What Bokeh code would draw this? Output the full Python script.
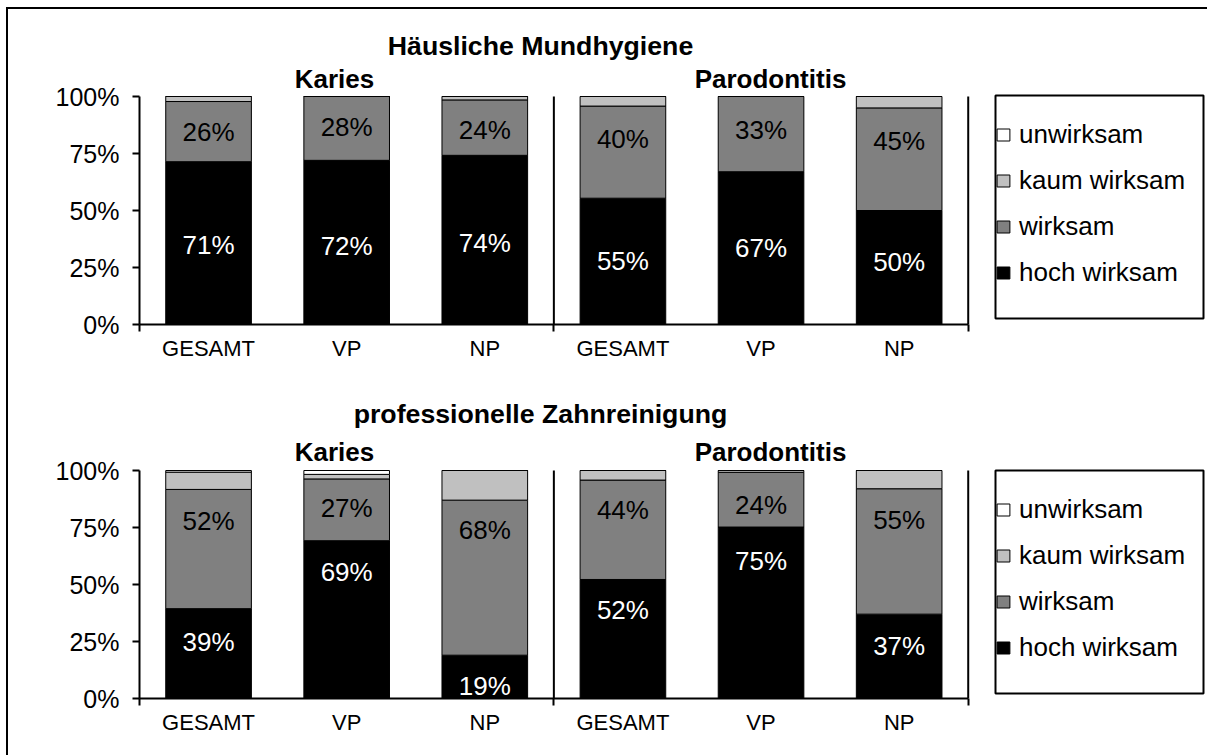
from bokeh.plotting import figure
from bokeh.models import (ColumnDataSource, FixedTicker, Legend, LegendItem,
                          BoxAnnotation, Range1d)
from bokeh.layouts import column
from bokeh.core.properties import value
from bokeh.embed import file_html
from bokeh.resources import INLINE

# ---------------- data ----------------
groups = ["Karies", "Parodontitis"]
subgroups = ["GESAMT", "VP", "NP"]
levels = ["hoch wirksam", "wirksam", "kaum wirksam", "unwirksam"]
level_keys = ["hoch", "wirksam", "kaum", "unwirksam"]
level_colors = ["#000000", "#808080", "#c0c0c0", "#ffffff"]
y_ticks = [0, 25, 50, 75, 100]
y_tick_labels = ["0%", "25%", "50%", "75%", "100%"]

home_title = "Häusliche Mundhygiene"
home_hoch = [71.4, 72.0, 74.2, 55.4, 67.0, 50.0]
home_wirksam = [26.4, 28.0, 24.3, 40.4, 33.0, 45.0]
home_kaum = [2.2, 0.0, 1.5, 4.2, 0.0, 5.0]
home_unwirksam = [0.0, 0.0, 0.0, 0.0, 0.0, 0.0]

prof_title = "professionelle Zahnreinigung"
prof_hoch = [39.4, 69.2, 19.0, 52.2, 75.2, 37.0]
prof_wirksam = [52.3, 27.1, 68.0, 43.6, 24.0, 55.0]
prof_kaum = [7.6, 2.0, 13.0, 4.2, 0.8, 8.0]
prof_unwirksam = [0.7, 1.7, 0.0, 0.0, 0.0, 0.0]

# label placement tweaks (in % units, relative to segment centre)
home_shift_hoch = [-1.0, -1.4, -1.2, 0.0, 0.0, 2.2]
home_shift_wirk = [0.0, 0.5, -1.2, 5.7, 2.0, 8.2]
prof_shift_hoch = [5.0, 20.9, -3.8, 12.5, 22.9, 4.7]
prof_shift_wirk = [12.1, 0.7, 20.7, 8.5, -2.4, 13.6]

# ---------------- layout constants (page px) ----------------
ORIGIN_X, ORIGIN_Y = 8, 9      # canvas origin on the page (after margin + border)
W = 1199
AXIS_X = 139                   # page x of the y axis
LEFT = AXIS_X - ORIGIN_X
PX_X = 69.06                   # px per x unit (2 units per category)
PX_Y = 2.28                    # px per percent
X_END = (W - LEFT) / PX_X
FONT_NAME = "Liberation Sans"
FONT = value(FONT_NAME)

n_cat = len(groups) * len(subgroups)
xs = [2 * i + 1 for i in range(n_cat)]
bounds = [2 * len(subgroups) * g for g in range(len(groups) + 1)]
x_end_bars = bounds[-1]


def px_x(page_x):
    return (page_x - AXIS_X) / PX_X


def make_chart(title, hoch, wirk, kaum, unw, sh_hoch, sh_wirk, canvas_top, height,
               zero_y, title_y, group_y, legend_top, box_top, box_bottom):
    frame_h = zero_y - canvas_top
    p = figure(width=W, height=height, output_backend="svg", toolbar_location=None,
               x_range=Range1d(0, X_END), y_range=Range1d(0, frame_h / PX_Y),
               min_border_left=LEFT, min_border_right=0, min_border_top=0,
               min_border_bottom=height - frame_h)
    p.outline_line_color = None
    p.xgrid.grid_line_color = None
    p.ygrid.grid_line_color = None
    p.background_fill_color = "white"
    p.border_fill_color = "white"

    def py(page_y):
        return (zero_y - page_y) / PX_Y

    src = ColumnDataSource(dict(x=xs, hoch=hoch, wirksam=wirk, kaum=kaum, unwirksam=unw))
    rends = p.vbar_stack(level_keys, x="x", width=1.24, source=src,
                         fill_color=level_colors, line_color="black", line_width=1)

    # separators between groups
    p.segment(x0=bounds[1:], y0=[0] * len(groups), x1=bounds[1:], y1=[100] * len(groups),
              line_color="black", line_width=2)

    # value labels
    lx, ly, lt, lc = [], [], [], []
    for i in range(n_cat):
        lx.append(xs[i]); ly.append(hoch[i] / 2 + sh_hoch[i])
        lt.append(f"{round(hoch[i])}%"); lc.append("white")
        lx.append(xs[i]); ly.append(hoch[i] + wirk[i] / 2 + sh_wirk[i])
        lt.append(f"{round(wirk[i])}%"); lc.append("black")
    lsrc = ColumnDataSource(dict(x=lx, y=ly, text=lt, color=lc))
    p.text(x="x", y="y", text="text", text_color="color", source=lsrc,
           text_align="center", text_baseline="middle",
           text_font=FONT, text_font_size="26px")

    # titles
    p.text(x=[px_x(540)], y=[py(title_y)], text=[title], text_align="center",
           text_baseline="middle", text_font=FONT, text_font_size="26.7px",
           text_font_style="bold", text_color="black")
    p.text(x=[px_x(334), px_x(770)], y=[py(group_y)] * 2, text=groups, text_align="center",
           text_baseline="middle", text_font=FONT, text_font_size="26px",
           text_font_style="bold", text_color="black")

    # x axis
    xa = p.xaxis[0]
    xa.ticker = FixedTicker(ticks=xs, minor_ticks=bounds)
    xa.major_label_overrides = {x: subgroups[i % len(subgroups)] for i, x in enumerate(xs)}
    xa.bounds = (0, x_end_bars)
    xa.axis_line_width = 2
    xa.axis_line_color = "black"
    xa.major_tick_line_color = None
    xa.major_tick_out = 7
    xa.major_tick_in = 0
    xa.minor_tick_line_color = "black"
    xa.minor_tick_line_width = 2
    xa.minor_tick_out = 7
    xa.minor_tick_in = 0
    xa.major_label_standoff = 4
    xa.major_label_text_font = FONT_NAME
    xa.major_label_text_font_size = "22px"
    xa.major_label_text_color = "black"

    # y axis
    ya = p.yaxis[0]
    ya.ticker = FixedTicker(ticks=y_ticks)
    ya.major_label_overrides = dict(zip(y_ticks, y_tick_labels))
    ya.bounds = (0, 100)
    ya.axis_line_width = 2
    ya.axis_line_color = "black"
    ya.major_tick_line_width = 2
    ya.major_tick_line_color = "black"
    ya.major_tick_out = 7
    ya.major_tick_in = 0
    ya.minor_tick_line_color = None
    ya.major_label_standoff = 13
    ya.major_label_text_font = FONT_NAME
    ya.major_label_text_font_size = "25px"
    ya.major_label_text_color = "black"

    # legend
    pad, item_h = 8, 46
    leg_h = 2 * pad + item_h * len(levels)
    items = [LegendItem(label=levels[k], renderers=[rends[k]]) for k in reversed(range(len(levels)))]
    leg = Legend(items=items, location=(995 - AXIS_X, zero_y - legend_top - leg_h),
                 padding=pad, spacing=0, margin=0, label_height=item_h,
                 glyph_height=15, glyph_width=16, label_standoff=8,
                 border_line_color=None, background_fill_alpha=0,
                 label_text_font=FONT_NAME, label_text_font_size="26px",
                 label_text_color="black")
    p.add_layout(leg)
    p.add_layout(BoxAnnotation(left=px_x(995), right=px_x(1203),
                               top=py(box_top), bottom=py(box_bottom),
                               fill_alpha=0, line_color="black", line_alpha=1,
                               line_width=2))
    return p


H1 = 373
H2 = 746 - H1
top = make_chart(home_title, home_hoch, home_wirksam, home_kaum, home_unwirksam,
                 home_shift_hoch, home_shift_wirk, canvas_top=ORIGIN_Y, height=H1,
                 zero_y=324, title_y=45, group_y=78, legend_top=95,
                 box_top=95, box_bottom=318)
bottom = make_chart(prof_title, prof_hoch, prof_wirksam, prof_kaum, prof_unwirksam,
                    prof_shift_hoch, prof_shift_wirk, canvas_top=ORIGIN_Y + H1, height=H2,
                    zero_y=698, title_y=413, group_y=451, legend_top=470.7,
                    box_top=470, box_bottom=693)

layout = column(top, bottom, spacing=0,
                styles={"margin-left": "6px", "margin-top": "7px",
                        "border-left": "2px solid black", "border-top": "2px solid black"})

open("out.html", "w").write(file_html(layout, INLINE))
